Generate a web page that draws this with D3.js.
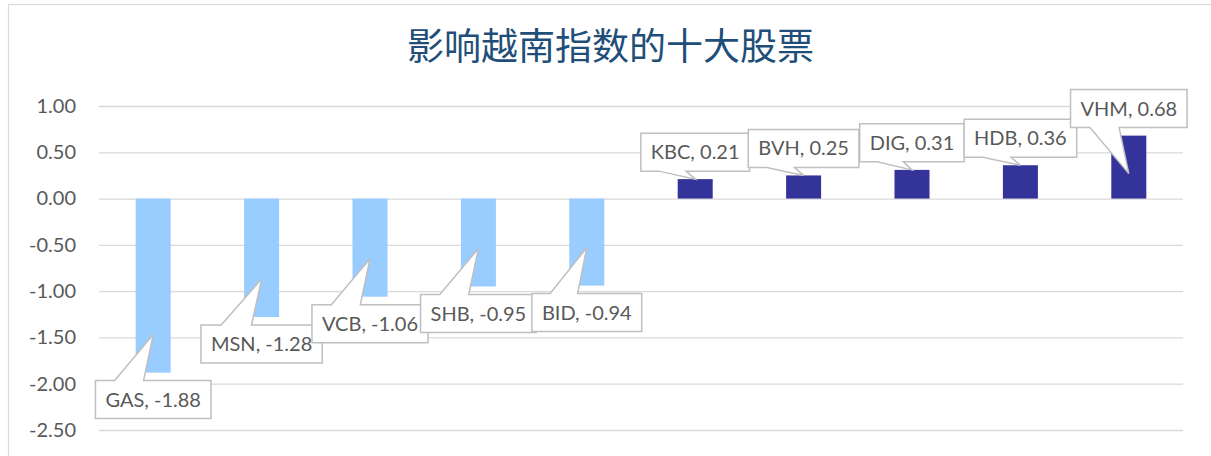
<!DOCTYPE html>
<html>
<head>
<meta charset="utf-8">
<script src="https://cdn.jsdelivr.net/npm/d3@7/dist/d3.min.js"></script>
<style>
    html, body { margin: 0; padding: 0; background: #ffffff; }
    svg { display: block; }
</style>
</head>
<body>
<div id="chart"></div>
<script>
(function () {
    'use strict';

    // data
    const tickers = ['GAS', 'MSN', 'VCB', 'SHB', 'BID', 'KBC', 'BVH', 'DIG', 'HDB', 'VHM'];
    const values = [-1.88, -1.28, -1.06, -0.95, -0.94, 0.21, 0.25, 0.31, 0.36, 0.68];
    const yTicks = [1.0, 0.5, 0.0, -0.5, -1.0, -1.5, -2.0, -2.5];
    const title = '影响越南指数的十大股票';

    const width = 1211;
    const height = 456;
    const margin = { top: 106, right: 28, bottom: 26, left: 99 };
    const latin = 'Lato, "Liberation Sans", sans-serif';

    let data = tickers.map(function (t, i) {
        return { name: t, value: values[i] };
    });

    let svg = d3.select('#chart').append('svg')
        .attr('width', width)
        .attr('height', height);

    // chart area frame
    svg.append('rect')
        .attr('x', 8.5)
        .attr('y', 4.5)
        .attr('width', width + 20)
        .attr('height', height + 20)
        .style('fill', '#ffffff')
        .style('stroke', '#d9d9d9')
        .style('stroke-width', 1.2);

    svg.append('text')
        .attr('x', 610.5)
        .attr('y', 60)
        .attr('text-anchor', 'middle')
        .style('font-family', '"Noto Sans CJK SC", sans-serif')
        .style('font-size', '37px')
        .style('fill', '#1f4e79')
        .text(title);

    let xScale = d3.scaleBand()
        .domain(tickers)
        .range([margin.left, width - margin.right])
        .paddingInner(0.677)
        .paddingOuter(0.3385);

    let yScale = d3.scaleLinear()
        .domain([-2.5, 1.0])
        .range([height - margin.bottom, margin.top]);

    // gridlines
    let yAxis = d3.axisLeft(yScale)
        .tickValues(yTicks)
        .tickSize(-(width - margin.right - margin.left))
        .tickPadding(23)
        .tickFormat(function (d) { return d.toFixed(2); });

    let gAxis = svg.append('g')
        .attr('transform', 'translate(' + margin.left + ',0)')
        .call(yAxis);
    gAxis.select('.domain').remove();
    gAxis.selectAll('.tick line')
        .style('stroke', '#d9d9d9')
        .style('stroke-width', 1.3);
    gAxis.selectAll('.tick text')
        .style('font-family', latin)
        .style('font-size', '20px')
        .style('fill', '#595959');

    // bars
    svg.append('g').selectAll('rect')
        .data(data)
        .enter()
        .append('rect')
        .attr('x', function (d) { return xScale(d.name); })
        .attr('y', function (d) { return yScale(Math.max(0, d.value)); })
        .attr('width', xScale.bandwidth())
        .attr('height', function (d) { return Math.abs(yScale(d.value) - yScale(0)); })
        .style('fill', function (d) { return d.value < 0 ? '#99ccff' : '#333399'; });

    // excel style wedge callout, tip vertically dominant
    function calloutPath(l, t, w, h, tx, ty) {
        let r = l + w, b = t + h;
        let dx = tx - (l + w / 2);
        let x1 = l + w * (dx > 0 ? 7 : 2) / 12;
        let x2 = l + w * (dx > 0 ? 10 : 5) / 12;
        if (ty < t) {
            return 'M' + l + ',' + t + 'L' + x1 + ',' + t + 'L' + tx + ',' + ty +
                'L' + x2 + ',' + t + 'L' + r + ',' + t + 'L' + r + ',' + b +
                'L' + l + ',' + b + 'Z';
        }
        return 'M' + l + ',' + t + 'L' + r + ',' + t + 'L' + r + ',' + b +
            'L' + x2 + ',' + b + 'L' + tx + ',' + ty + 'L' + x1 + ',' + b +
            'L' + l + ',' + b + 'Z';
    }

    let boxH = 38;
    let gap = 8;
    let labels = svg.append('g');
    data.forEach(function (d) {
        let g = labels.append('g');
        let cx = xScale(d.name) + xScale.bandwidth() / 2;
        let yEnd = yScale(d.value);
        let barH = Math.abs(yEnd - yScale(0));
        let inside = barH > 50 ? 38 : 0;
        let path = g.append('path');
        let txt = g.append('text')
            .attr('text-anchor', 'middle')
            .style('font-family', latin)
            .style('font-size', '20px')
            .style('fill', '#595959')
            .text(d.name + ', ' + d.value.toFixed(2));
        let w = txt.node().getComputedTextLength() + 20;
        let top, tipY;
        if (d.value < 0) {
            top = yEnd + gap;
            tipY = yEnd - inside;
        } else {
            top = yEnd - gap - boxH;
            tipY = yEnd + inside;
        }
        txt.attr('x', cx).attr('y', top + boxH / 2 + 7);
        path.attr('d', calloutPath(cx - w / 2, top, w, boxH, cx, tipY))
            .style('fill', '#ffffff')
            .style('stroke', '#bfbfbf')
            .style('stroke-width', 1.5);
    });
})();
</script>
</body>
</html>
